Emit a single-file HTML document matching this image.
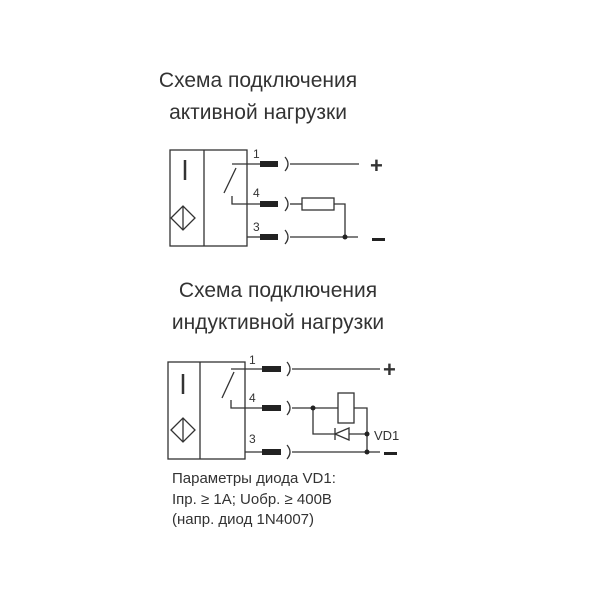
<!DOCTYPE html>
<html><head><meta charset="utf-8"><style>
html,body{margin:0;padding:0;background:#fff}
svg{display:block}
text{font-family:"Liberation Sans Narrow","Liberation Sans",sans-serif;fill:#333}
</style></head><body>
<svg width="600" height="600" viewBox="0 0 600 600" xmlns="http://www.w3.org/2000/svg">
<g font-size="21" text-anchor="middle">
<text x="258" y="87">Схема подключения</text>
<text x="258" y="119">активной нагрузки</text>
<text x="278" y="297">Схема подключения</text>
<text x="278" y="329">индуктивной нагрузки</text>
</g>
<g stroke="#333" stroke-width="1.3" fill="none">
<rect x="170" y="150" width="77" height="96"/>
<line x1="204" y1="150" x2="204" y2="246"/>
<line x1="185" y1="160" x2="185" y2="180" stroke-width="2.5"/>
<polygon points="171,218 183,206 195,218 183,230"/>
<line x1="183" y1="206" x2="183" y2="230"/>
<line x1="232" y1="164" x2="260" y2="164"/>
<line x1="224" y1="193" x2="236" y2="168"/>
<polyline points="232,196 232,204 260,204"/>
<line x1="247" y1="237" x2="260" y2="237"/>
<path d="M285,157 Q291,164 285,171"/><path d="M285,197 Q291,204 285,211"/><path d="M285,230 Q291,237 285,244"/>
<line x1="290" y1="164" x2="359" y2="164"/>
<line x1="290" y1="204" x2="302" y2="204"/>
<rect x="302" y="198" width="32" height="12"/>
<polyline points="334,204 345,204 345,237"/>
<line x1="290" y1="237" x2="358" y2="237"/>
<rect x="168" y="362" width="77" height="97"/>
<line x1="200" y1="362" x2="200" y2="459"/>
<line x1="183" y1="374" x2="183" y2="394" stroke-width="2.5"/>
<polygon points="171,430 183,418 195,430 183,442"/>
<line x1="183" y1="418" x2="183" y2="442"/>
<line x1="231" y1="369" x2="262" y2="369"/>
<line x1="222" y1="398" x2="234" y2="372"/>
<polyline points="231,400 231,408 262,408"/>
<line x1="245" y1="452" x2="262" y2="452"/>
<path d="M287,362 Q293,369 287,376"/><path d="M287,401 Q293,408 287,415"/><path d="M287,445 Q293,452 287,459"/>
<line x1="292" y1="369" x2="380" y2="369"/>
<line x1="292" y1="408" x2="338" y2="408"/>
<rect x="338" y="393" width="16" height="30"/>
<polyline points="354,408 367,408 367,452"/>
<polyline points="313,408 313,434 367,434"/>
<polygon points="335,434 349,428 349,440" fill="#fff"/>
<line x1="335" y1="428" x2="335" y2="440"/>
<line x1="292" y1="452" x2="380" y2="452"/>
</g>
<g fill="#222">
<rect x="260" y="161" width="18" height="6"/><rect x="260" y="201" width="18" height="6"/><rect x="260" y="234" width="18" height="6"/>
<circle cx="345" cy="237" r="2.5"/>
<rect x="262" y="366" width="19" height="6"/><rect x="262" y="405" width="19" height="6"/><rect x="262" y="449" width="19" height="6"/>
<circle cx="313" cy="408" r="2.5"/><circle cx="367" cy="434" r="2.5"/><circle cx="367" cy="452" r="2.5"/>
<rect x="372" y="238" width="13" height="3"/>
<rect x="384" y="452" width="13" height="3"/>
</g>
<g font-size="12">
<text x="253" y="158">1</text><text x="253" y="197">4</text><text x="253" y="231">3</text>
<text x="249" y="364">1</text><text x="249" y="402">4</text><text x="249" y="443">3</text>
</g>
<g font-size="22" font-weight="bold">
<text x="370" y="173">+</text>
<text x="383" y="377">+</text>
</g>
<text x="374" y="440" font-size="13">VD1</text>
<g font-size="15">
<text x="172" y="483">Параметры диода VD1:</text>
<text x="172" y="504">Iпр. ≥ 1А; Uобр. ≥ 400В</text>
<text x="172" y="524">(напр. диод 1N4007)</text>
</g>
</svg>
</body></html>
